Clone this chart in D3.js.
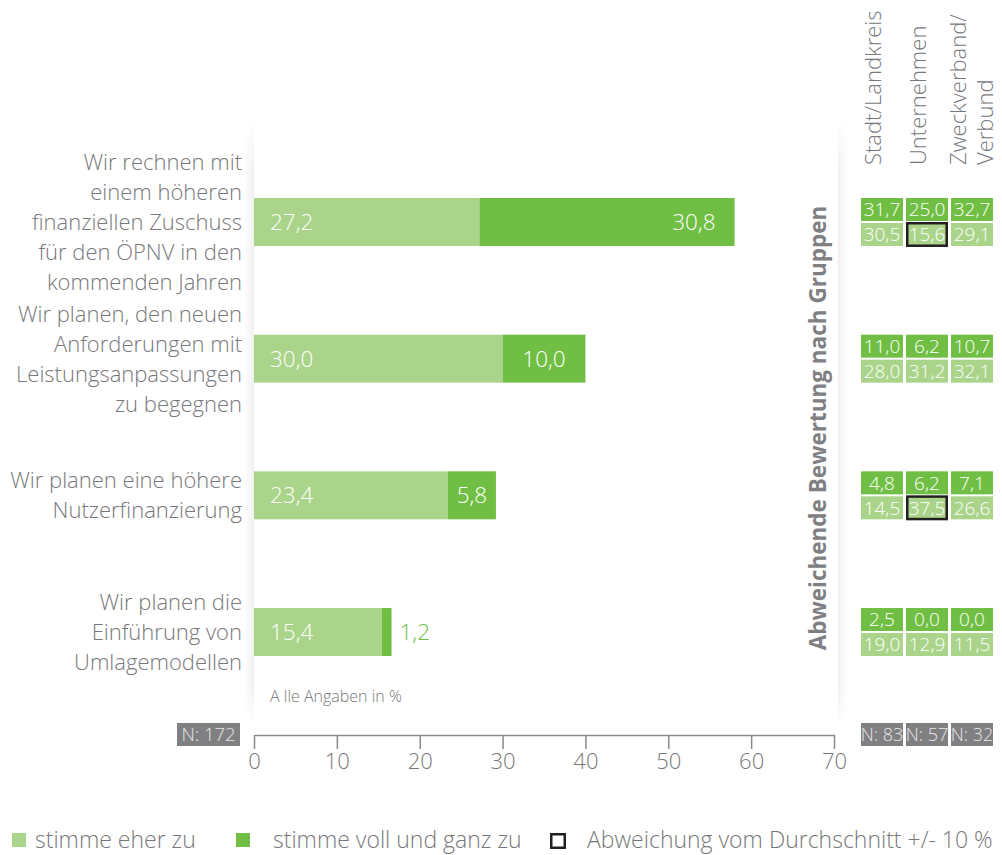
<!DOCTYPE html>
<html><head><meta charset="utf-8">
<script src="https://cdn.jsdelivr.net/npm/d3@7"></script>
<style>
body{margin:0;background:#fff;}
text{font-family:"Open Sans",sans-serif;}
</style></head>
<body><svg id="c" width="1002" height="855"></svg>
<script>
const categories = [
  ["Wir rechnen mit","einem höheren","finanziellen Zuschuss","für den ÖPNV in den","kommenden Jahren"],
  ["Wir planen, den neuen","Anforderungen mit","Leistungsanpassungen","zu begegnen"],
  ["Wir planen eine höhere","Nutzerfinanzierung"],
  ["Wir planen die","Einführung von","Umlagemodellen"]
];
const eherZu = [27.2, 30.0, 23.4, 15.4];
const vollZu = [30.8, 10.0, 5.8, 1.2];
const groups = [["Stadt/Landkreis"],["Unternehmen"],["Zweckverband/","Verbund"]];
const groupN = [83, 57, 32];
const groupVoll = [[31.7,25.0,32.7],[11.0,6.2,10.7],[4.8,6.2,7.1],[2.5,0.0,0.0]];
const groupEher = [[30.5,15.6,29.1],[28.0,31.2,32.1],[14.5,37.5,26.6],[19.0,12.9,11.5]];
const highlightEher = [[false,true,false],[false,false,false],[false,true,false],[false,false,false]];
const totalN = 172;
const xTicks = [0,10,20,30,40,50,60,70];
const legendItems = ["stimme eher zu","stimme voll und ganz zu","Abweichung vom Durchschnitt +/- 10 %"];

const LIGHT="#aad48a", DARK="#70bf44", GRAY="#77787b", NGRAY="#808083";
const fmt = v => d3.format(".1f")(v).replace(".", ",");

const svg = d3.select("#c");
const defs = svg.append("defs");
function grad(id, x1, x2, o1, o2){
  const gr = defs.append("linearGradient").attr("id",id).attr("x1",x1).attr("x2",x2).attr("y1",0).attr("y2",0);
  gr.append("stop").attr("offset",0).attr("stop-color","#000").attr("stop-opacity",o1);
  gr.append("stop").attr("offset",1).attr("stop-color","#000").attr("stop-opacity",o2);
}
grad("shL",0,1,0,0.06);
grad("shR",0,1,0.06,0);
const vm = defs.append("linearGradient").attr("id","vfade").attr("x1",0).attr("x2",0).attr("y1",0).attr("y2",1);
[[0,0],[0.08,1],[0.94,1],[1,0]].forEach(([o,a])=>vm.append("stop").attr("offset",o).attr("stop-color","#fff").attr("stop-opacity",a));
const mask = defs.append("mask").attr("id","vmask").attr("maskUnits","userSpaceOnUse").attr("x",0).attr("y",0).attr("width",1002).attr("height",855);
mask.append("rect").attr("x",0).attr("y",120).attr("width",1002).attr("height",605).attr("fill","url(#vfade)");

const idx = d3.range(categories.length);
const x = d3.scaleLinear().domain([0,70]).range([254,834]);
const y = d3.scaleBand().domain(idx).range([153.65,700.35]).paddingInner(0.649).paddingOuter(0.3245);

// panel soft side shadows
const sh = svg.append("g").attr("mask","url(#vmask)");
sh.append("rect").attr("x",x(0)-10).attr("y",120).attr("width",10).attr("height",605).attr("fill","url(#shL)");
sh.append("rect").attr("x",838).attr("y",120).attr("width",10).attr("height",605).attr("fill","url(#shR)");

// bars
const g = svg.append("g");
g.selectAll(".b1").data(idx).join("rect")
  .attr("x",x(0)).attr("y",i=>y(i)).attr("width",i=>x(eherZu[i])-x(0)).attr("height",y.bandwidth()).attr("fill",LIGHT);
g.selectAll(".b2").data(idx).join("rect")
  .attr("x",i=>x(eherZu[i])).attr("y",i=>y(i)).attr("width",i=>x(eherZu[i]+vollZu[i])-x(eherZu[i])).attr("height",y.bandwidth()).attr("fill",DARK);

g.selectAll(".l1").data(idx).join("text")
  .attr("x",x(0)+16).attr("y",i=>y(i)+y.bandwidth()/2).attr("dy","0.36em")
  .attr("font-size",22.5).attr("font-weight",300).attr("fill","#fff").text(i=>fmt(eherZu[i]));

g.selectAll(".l2").data(idx).join("text")
  .each(function(i){
    const s=x(eherZu[i]), e=x(eherZu[i]+vollZu[i]), w=e-s;
    const t=d3.select(this).attr("y",y(i)+y.bandwidth()/2).attr("dy","0.36em").attr("font-size",22.5).attr("font-weight",300).text(fmt(vollZu[i]));
    if(w>120){t.attr("x",e-19).attr("text-anchor","end").attr("fill","#fff");}
    else if(w>=40){t.attr("x",(s+e)/2).attr("text-anchor","middle").attr("fill","#fff");}
    else {t.attr("x",e+8).attr("text-anchor","start").attr("fill",DARK);}
  });

// category labels
const lh = 30;
g.selectAll(".cat").data(idx).join("text")
  .attr("text-anchor","end").attr("font-size",22).attr("fill",GRAY).attr("font-weight",300)
  .each(function(i){
    const lines=categories[i], n=lines.length, cy=y(i)+y.bandwidth()/2;
    d3.select(this).selectAll("tspan").data(lines).join("tspan")
      .attr("x",242).attr("y",(d,k)=>cy+(k-(n-1)/2)*lh).attr("dy","0.36em").text(d=>d);
  });

svg.append("text").attr("x",x(0)+16).attr("y",702).attr("font-size",16).attr("fill",GRAY).attr("font-weight",300).text("A lle Angaben in %");

// axis
const ax = svg.append("g").attr("transform","translate(0,735)")
  .call(d3.axisBottom(x).tickValues(xTicks).tickSize(14).tickSizeOuter(0).tickPadding(4).tickFormat(d3.format("d")));
ax.select(".domain").attr("stroke","#8a8a8d").attr("stroke-width",1.5);
ax.selectAll(".tick line").attr("stroke","#8a8a8d").attr("stroke-width",1.5);
ax.selectAll(".tick text").attr("font-size",22).attr("fill",GRAY).attr("font-weight",300).attr("font-family","'Open Sans',sans-serif");

// N total
svg.append("rect").attr("x",177).attr("y",723).attr("width",63).attr("height",23).attr("fill",NGRAY);
svg.append("text").attr("x",208.5).attr("y",734.5).attr("dy","0.36em").attr("text-anchor","middle").attr("font-size",18.5).attr("fill","#e6e6e6").attr("font-weight",300).text("N: "+totalN);

// vertical title
svg.append("text").attr("transform","translate(826,428) rotate(-90)").attr("text-anchor","middle")
  .attr("font-size",22.5).attr("font-weight",700).attr("fill",NGRAY).text("Abweichende Bewertung nach Gruppen");

// group columns
const gx = d3.scaleBand().domain(d3.range(groups.length)).range([861,993]).paddingInner(0.067);
const sub = d3.scaleBand().domain(["voll","eher"]).range([0,y.bandwidth()]).paddingInner(0.08);

// headers
const hdr = svg.append("g");
groups.forEach((lines,j)=>{
  const n=lines.length;
  lines.forEach((ln,k)=>{
    const bx = gx(j)+gx.bandwidth()/2 - 1 + (n-1)*22 - (n-1-k)*27;
    hdr.append("text").attr("transform",`translate(${bx},165) rotate(-90)`).attr("font-size",22).attr("font-weight",300).attr("fill",GRAY).text(ln);
  });
});

const cells = svg.append("g");
idx.forEach(i=>{
  groups.forEach((_,j)=>{
    [["voll",groupVoll[i][j],DARK,false],["eher",groupEher[i][j],LIGHT,highlightEher[i][j]]].forEach(([k,v,col,hl])=>{
      const yy=y(i)+sub(k);
      cells.append("rect").attr("x",gx(j)).attr("y",yy).attr("width",gx.bandwidth()).attr("height",sub.bandwidth()).attr("fill",col);
      if(hl) cells.append("rect").attr("x",gx(j)+1.25).attr("y",yy+0.25).attr("width",gx.bandwidth()-2.5).attr("height",sub.bandwidth()-0.5).attr("fill","none").attr("stroke","#231f20").attr("stroke-width",2.5);
      cells.append("text").attr("x",gx(j)+gx.bandwidth()/2).attr("y",yy+sub.bandwidth()/2).attr("dy","0.36em").attr("text-anchor","middle").attr("font-size",19).attr("font-weight",300).attr("fill","#fff").text(fmt(v));
    });
  });
});
groupN.forEach((n,j)=>{
  cells.append("rect").attr("x",gx(j)).attr("y",723).attr("width",gx.bandwidth()).attr("height",23).attr("fill",NGRAY);
  cells.append("text").attr("x",gx(j)+gx.bandwidth()/2).attr("y",734.5).attr("dy","0.36em").attr("text-anchor","middle").attr("font-size",18).attr("fill","#e6e6e6").attr("font-weight",300).text("N: "+n);
});

// legend
const lg = svg.append("g");
const lx = [12,236,550], tx=[35,273,587];
lg.append("rect").attr("x",lx[0]).attr("y",833).attr("width",14).attr("height",14).attr("fill",LIGHT);
lg.append("rect").attr("x",lx[1]).attr("y",833).attr("width",14).attr("height",14).attr("fill",DARK);
lg.append("rect").attr("x",lx[2]+1.25).attr("y",834.25).attr("width",13.5).attr("height",13.5).attr("fill","none").attr("stroke","#231f20").attr("stroke-width",2.5);
legendItems.forEach((t,k)=>{
  lg.append("text").attr("x",tx[k]).attr("y",840).attr("dy","0.36em").attr("font-size",23).attr("font-weight",300).attr("fill",GRAY).text(t);
});
</script></body></html>
